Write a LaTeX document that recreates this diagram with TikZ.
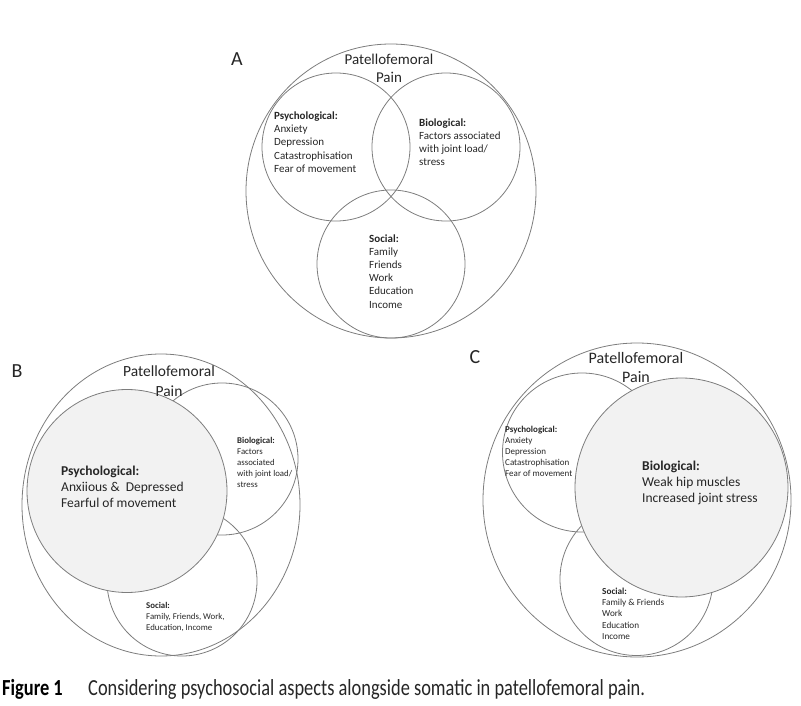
\documentclass[tikz,border=0pt]{standalone}
\usepackage{fontspec}
\setmainfont{Carlito}
\newfontfamily\capfont[FakeStretch=0.8]{Carlito}
\usetikzlibrary{positioning}
\definecolor{ringgray}{RGB}{125,125,125}
\definecolor{fillgray}{RGB}{242,242,242}
\definecolor{inkgray}{RGB}{38,38,38}
\tikzstyle{ring} = [draw=ringgray, line width=0.8pt]
\tikzstyle{bigring} = [ring, fill=fillgray]
\tikzstyle{lbl} = [inner sep=0pt, align=left, anchor=west, text=inkgray]
\tikzstyle{pfp} = [inner sep=0pt, align=center, text=inkgray]
\tikzstyle{panel} = [inner sep=0pt, text=inkgray, font=\fontsize{20}{22}\selectfont]

\begin{document}
\begin{tikzpicture}[x=1pt, y=-1pt]

	% canvas, in pixels of the reference
	\useasboundingbox (0,0) rectangle (801,706);

	% ---- A: balanced model ----
	\draw[ring] (391,191) ellipse [x radius=145, y radius=147];
	\draw[ring] (336,147) circle (74pt);
	\draw[ring] (446,147) circle (74pt);
	\draw[ring] (391,264) circle (74pt);

	\node[panel] (labA) at (237,59) {A};
	\node[pfp, font=\fontsize{15}{18}\selectfont] (pfpA) at (389,68) {Patellofemoral\\Pain};
	\node[lbl, font=\fontsize{11}{13.2}\selectfont] (psyA) at (274,142)
		{\textbf{Psychological:}\\Anxiety\\Depression\\Catastrophisation\\Fear of movement};
	\node[lbl, font=\fontsize{11}{13.2}\selectfont] (bioA) at (419,142)
		{\textbf{Biological:}\\Factors associated\\with joint load/\\stress};
	\node[lbl, font=\fontsize{11}{13.1}\selectfont] (socA) at (369,271.5)
		{\textbf{Social:}\\Family\\Friends\\Work\\Education\\Income};

	% ---- B: psychological dominant ----
	\draw[ring] (161,505) ellipse [x radius=139, y radius=151];
	\draw[ring] (222,459) circle (76pt);
	\draw[ring] (182,581) circle (75pt);
	\draw[bigring] (127,491) ellipse [x radius=100, y radius=101.5];

	\node[panel] (labB) at (17,371) {B};
	\node[pfp, font=\fontsize{15.5}{20}\selectfont] (pfpB) at (169,381) {Patellofemoral\\Pain};
	\node[lbl, font=\fontsize{13.5}{16}\selectfont] (psyB) at (61,487)
		{\textbf{Psychological:}\\Anxiious \&\ \ Depressed\\Fearful of movement};
	\node[lbl, font=\fontsize{8.8}{10.8}\selectfont] (bioB) at (237,462.5)
		{\textbf{Biological:}\\Factors\\associated\\with joint load/\\stress};
	\node[lbl, font=\fontsize{8.8}{11}\selectfont] (socB) at (146,617)
		{\textbf{Social:}\\Family, Friends, Work,\\Education, Income};

	% ---- C: biological dominant ----
	\draw[ring] (637,500) ellipse [x radius=154, y radius=157];
	\draw[ring] (582,452.5) circle (79.5pt);
	\draw[ring] (636.5,579) circle (76.5pt);
	\draw[bigring] (681.5,487.5) ellipse [x radius=106.5, y radius=109.5];

	\node[panel] (labC) at (475,357) {C};
	\node[pfp, font=\fontsize{16}{19}\selectfont] (pfpC) at (636,367.5) {Patellofemoral\\Pain};
	\node[lbl, font=\fontsize{9}{11}\selectfont] (psyC) at (505,451)
		{\textbf{Psychological:}\\Anxiety\\Depression\\Catastrophisation\\Fear of movement};
	\node[lbl, font=\fontsize{13.5}{16}\selectfont] (bioC) at (642,483)
		{\textbf{Biological:}\\Weak hip muscles\\Increased joint stress};
	\node[lbl, font=\fontsize{9.2}{11.3}\selectfont] (socC) at (602,613.5)
		{\textbf{Social:}\\Family \& Friends\\Work\\Education\\Income};

	% caption
	\node[inner sep=0pt, anchor=base west, font=\capfont\fontsize{23}{26}\selectfont\bfseries] (fig) at (2,695) {Figure 1};
	\node[inner sep=0pt, base right=25pt of fig, font=\capfont\fontsize{23}{26}\selectfont, text=inkgray] (cap)
		{Considering psychosocial aspects alongside somatic in patellofemoral pain.};

\end{tikzpicture}
\end{document}
